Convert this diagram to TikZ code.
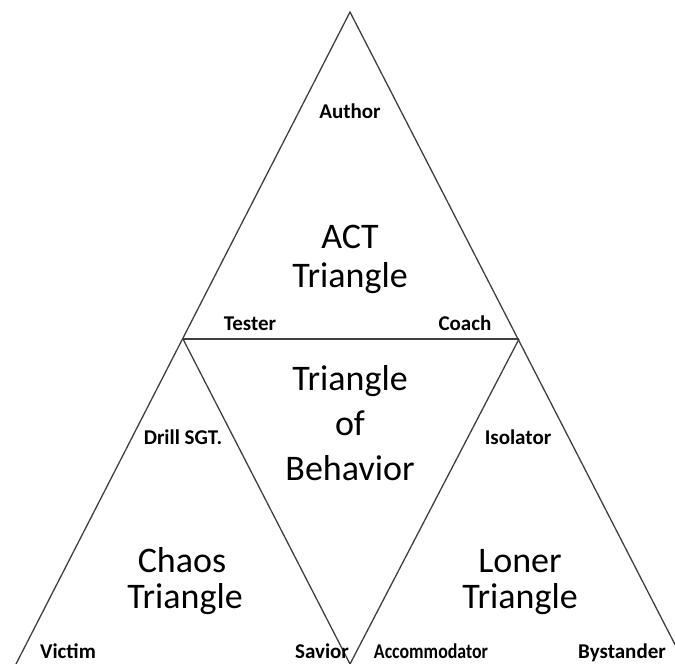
\documentclass[tikz,border=0pt]{standalone}
\usepackage{fontspec}
\setmainfont{Carlito}
\begin{document}
\begin{tikzpicture}[x=1pt,y=-1pt,
  edge/.style={draw=black!75,line width=1.3pt},
  role/.style={font=\fontsize{21}{24}\selectfont\bfseries,anchor=base,inner sep=0pt},
  big/.style={font=\fontsize{36}{40}\selectfont,align=center,anchor=base,inner sep=0pt}]
\useasboundingbox (0,0) rectangle (675,664);
\clip (0,0) rectangle (675,664);
\coordinate (A) at (350,12);
\coordinate (ML) at (183,339);
\coordinate (MR) at (519,339);
\coordinate (BL) at (16,664);
\coordinate (BM) at (350,664);
\coordinate (BR) at (685,664);
\draw[edge] (BL) -- (A) -- (BR);
\draw[edge] (ML) -- (MR);
\draw[edge] (ML) -- (BM) -- (MR);
\node[role] (author) at (350,118) {Author};
\node[big] (act) at (350,248) {ACT};
\node[big] (acttri) at (350,287) {Triangle};
\node[role] (tester) at (250,330) {Tester};
\node[role] (coach) at (465,330) {Coach};
\node[big] (tob1) at (350,390) {Triangle};
\node[big] (tob2) at (350,435) {of};
\node[big] (tob3) at (350,480) {Behavior};
\node[role] (drill) at (183,444) {Drill SGT.};
\node[role] (isol) at (518,444) {Isolator};
\node[big] (chaos) at (182,572) {Chaos};
\node[big] (chaostri) at (185,608) {Triangle};
\node[big] (loner) at (520,572) {Loner};
\node[big] (lonertri) at (520,608) {Triangle};
\node[role] (victim) at (68,658) {Victim};
\node[role] (savior) at (322,658) {Savior};
\node[role] (accom) at (431,658) {\scalebox{0.85}[1]{Accommodator}};
\node[role] (byst) at (622,658) {Bystander};
\end{tikzpicture}
\end{document}
